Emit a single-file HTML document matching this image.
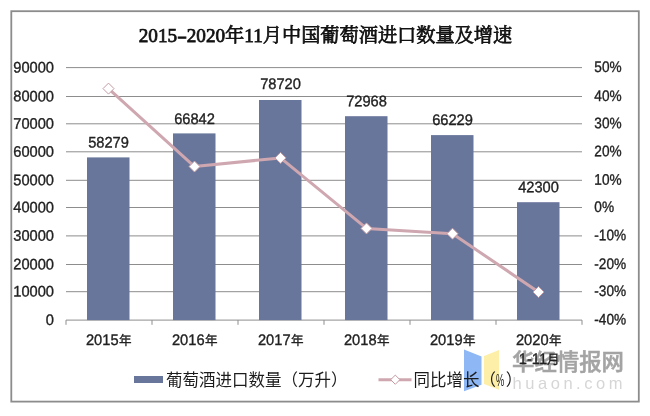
<!DOCTYPE html>
<html lang="zh-CN"><head><meta charset="utf-8"><title>2015-2020年11月中国葡萄酒进口数量及增速</title>
<style>
html,body{margin:0;padding:0;background:#fff;}
body{width:650px;height:416px;overflow:hidden;}
svg{display:block;}
text{font-family:"Liberation Sans","Noto Sans CJK SC",sans-serif;font-size:15.3px;fill:#222;stroke:#222;stroke-width:.35px;}
.title{font-family:"Liberation Serif","Noto Serif CJK SC",serif;font-weight:normal;font-size:19.2px;fill:#111;stroke:#111;stroke-width:.75px;}
.leg{font-size:16.5px;fill:#1c1c1c;stroke:none;}
.ra{font-size:15.3px;}
.cj{font-size:13.1px;}
.wm1{font-family:"Liberation Sans","Noto Sans CJK SC",sans-serif;font-weight:500;font-size:22.4px;fill:#8e8e8e;stroke:#8e8e8e;stroke-width:.55px;opacity:.8;}
.wm2{font-size:16.5px;fill:#d6d6d6;stroke:none;}
</style></head><body>
<svg width="650" height="416" viewBox="0 0 650 416">
<rect x="0" y="0" width="650" height="416" fill="#fff"/>
<rect x="11.3" y="11.2" width="627.5" height="390.4" fill="#fff" stroke="#8c8c8c" stroke-width="1.8"/>

<g>
<polygon points="464,349.5 481.5,356.5 481.5,384.7 464,391.2" fill="#8db7f5"/>
<polygon points="484,356 499,350 499,389.8 484,384" fill="#fdefa8"/>
<text class="wm1" x="512" y="370.3">华经情报网</text>
<text class="wm2" x="512.5" y="388.8" textLength="110" lengthAdjust="spacing">huaon.com</text>
</g>
<line x1="66" x2="582" y1="320.1" y2="320.1" stroke="#8d8d8d" stroke-width="1"/>
<line x1="66" x2="582" y1="291.7" y2="291.7" stroke="#8d8d8d" stroke-width="1"/>
<line x1="66" x2="582" y1="264.5" y2="264.5" stroke="#8d8d8d" stroke-width="1"/>
<line x1="66" x2="582" y1="235.9" y2="235.9" stroke="#8d8d8d" stroke-width="1"/>
<line x1="66" x2="582" y1="207.5" y2="207.5" stroke="#8d8d8d" stroke-width="1"/>
<line x1="66" x2="582" y1="180.3" y2="180.3" stroke="#8d8d8d" stroke-width="1"/>
<line x1="66" x2="582" y1="151.8" y2="151.8" stroke="#8d8d8d" stroke-width="1"/>
<line x1="66" x2="582" y1="123.8" y2="123.8" stroke="#8d8d8d" stroke-width="1"/>
<line x1="66" x2="582" y1="96.5" y2="96.5" stroke="#8d8d8d" stroke-width="1"/>
<line x1="66" x2="582" y1="67.6" y2="67.6" stroke="#8d8d8d" stroke-width="1"/>
<line x1="66.0" x2="66.0" y1="320.1" y2="324.8" stroke="#8d8d8d" stroke-width="1"/>
<line x1="152.0" x2="152.0" y1="320.1" y2="324.8" stroke="#8d8d8d" stroke-width="1"/>
<line x1="238.0" x2="238.0" y1="320.1" y2="324.8" stroke="#8d8d8d" stroke-width="1"/>
<line x1="324.0" x2="324.0" y1="320.1" y2="324.8" stroke="#8d8d8d" stroke-width="1"/>
<line x1="410.0" x2="410.0" y1="320.1" y2="324.8" stroke="#8d8d8d" stroke-width="1"/>
<line x1="496.0" x2="496.0" y1="320.1" y2="324.8" stroke="#8d8d8d" stroke-width="1"/>
<line x1="582.0" x2="582.0" y1="320.1" y2="324.8" stroke="#8d8d8d" stroke-width="1"/>
<text text-anchor="end" transform="translate(54.0 325.0) rotate(0.05) scale(0.958 1)">0</text>
<text class="ra" transform="translate(594.3 324.5) rotate(0.05) scale(0.892 1)">-40%</text>
<text text-anchor="end" transform="translate(54.0 296.6) rotate(0.05) scale(0.958 1)">10000</text>
<text class="ra" transform="translate(594.3 296.1) rotate(0.05) scale(0.892 1)">-30%</text>
<text text-anchor="end" transform="translate(54.0 269.4) rotate(0.05) scale(0.958 1)">20000</text>
<text class="ra" transform="translate(594.3 268.9) rotate(0.05) scale(0.892 1)">-20%</text>
<text text-anchor="end" transform="translate(54.0 240.8) rotate(0.05) scale(0.958 1)">30000</text>
<text class="ra" transform="translate(594.3 240.3) rotate(0.05) scale(0.892 1)">-10%</text>
<text text-anchor="end" transform="translate(54.0 212.4) rotate(0.05) scale(0.958 1)">40000</text>
<text class="ra" transform="translate(594.3 211.9) rotate(0.05) scale(0.892 1)">0%</text>
<text text-anchor="end" transform="translate(54.0 185.2) rotate(0.05) scale(0.958 1)">50000</text>
<text class="ra" transform="translate(594.3 184.7) rotate(0.05) scale(0.892 1)">10%</text>
<text text-anchor="end" transform="translate(54.0 156.7) rotate(0.05) scale(0.958 1)">60000</text>
<text class="ra" transform="translate(594.3 156.2) rotate(0.05) scale(0.892 1)">20%</text>
<text text-anchor="end" transform="translate(54.0 128.7) rotate(0.05) scale(0.958 1)">70000</text>
<text class="ra" transform="translate(594.3 128.2) rotate(0.05) scale(0.892 1)">30%</text>
<text text-anchor="end" transform="translate(54.0 101.4) rotate(0.05) scale(0.958 1)">80000</text>
<text class="ra" transform="translate(594.3 100.9) rotate(0.05) scale(0.892 1)">40%</text>
<text text-anchor="end" transform="translate(54.0 72.5) rotate(0.05) scale(0.958 1)">90000</text>
<text class="ra" transform="translate(594.3 72.0) rotate(0.05) scale(0.892 1)">50%</text>
<rect x="87.0" y="157.4" width="42.5" height="162.7" fill="#69769b"/>
<text text-anchor="middle" transform="translate(108.5 147.5) rotate(0.05) scale(0.958 1)">58279</text>
<text text-anchor="middle" transform="translate(108.8 345.0) rotate(0.05) scale(0.958 1)">2015<tspan class="cj" dx="0.6">年</tspan></text>
<rect x="173.0" y="133.4" width="42.5" height="186.7" fill="#69769b"/>
<text text-anchor="middle" transform="translate(194.5 124.0) rotate(0.05) scale(0.958 1)">66842</text>
<text text-anchor="middle" transform="translate(194.8 345.0) rotate(0.05) scale(0.958 1)">2016<tspan class="cj" dx="0.6">年</tspan></text>
<rect x="259.0" y="100.0" width="42.5" height="220.1" fill="#69769b"/>
<text text-anchor="middle" transform="translate(280.5 89.0) rotate(0.05) scale(0.958 1)">78720</text>
<text text-anchor="middle" transform="translate(280.8 345.0) rotate(0.05) scale(0.958 1)">2017<tspan class="cj" dx="0.6">年</tspan></text>
<rect x="345.0" y="116.2" width="42.5" height="203.9" fill="#69769b"/>
<text text-anchor="middle" transform="translate(366.5 106.2) rotate(0.05) scale(0.958 1)">72968</text>
<text text-anchor="middle" transform="translate(366.8 345.0) rotate(0.05) scale(0.958 1)">2018<tspan class="cj" dx="0.6">年</tspan></text>
<rect x="431.0" y="135.1" width="42.5" height="185.0" fill="#69769b"/>
<text text-anchor="middle" transform="translate(452.5 125.1) rotate(0.05) scale(0.958 1)">66229</text>
<text text-anchor="middle" transform="translate(452.8 345.0) rotate(0.05) scale(0.958 1)">2019<tspan class="cj" dx="0.6">年</tspan></text>
<rect x="517.0" y="202.2" width="42.5" height="117.9" fill="#69769b"/>
<text text-anchor="middle" transform="translate(538.5 192.2) rotate(0.05) scale(0.958 1)">42300</text>
<text text-anchor="middle" transform="translate(538.8 345.0) rotate(0.05) scale(0.958 1)">2020<tspan class="cj" dx="0.6">年</tspan></text>
<text text-anchor="middle" transform="translate(539.2 364.0) rotate(0.05) scale(0.958 1)">1-11<tspan class="cj">月</tspan></text>
<polyline fill="none" stroke="#cfa7b0" stroke-width="3" stroke-linejoin="round" points="108.5,88.6 194.5,166.6 280.5,157.9 366.5,228.4 452.5,233.7 538.5,292.0"/>
<path d="M108.5 83.1L114.0 88.6L108.5 94.1L103.0 88.6Z" fill="#fff" stroke="#c39aa3" stroke-width="1"/>
<path d="M194.5 161.1L200.0 166.6L194.5 172.1L189.0 166.6Z" fill="#fff" stroke="#c39aa3" stroke-width="1"/>
<path d="M280.5 152.4L286.0 157.9L280.5 163.4L275.0 157.9Z" fill="#fff" stroke="#c39aa3" stroke-width="1"/>
<path d="M366.5 222.9L372.0 228.4L366.5 233.9L361.0 228.4Z" fill="#fff" stroke="#c39aa3" stroke-width="1"/>
<path d="M452.5 228.2L458.0 233.7L452.5 239.2L447.0 233.7Z" fill="#fff" stroke="#c39aa3" stroke-width="1"/>
<path d="M538.5 286.5L544.0 292.0L538.5 297.5L533.0 292.0Z" fill="#fff" stroke="#c39aa3" stroke-width="1"/>
<text class="title" x="325.5" y="41.6" text-anchor="middle">2015<tspan textLength="9.6" lengthAdjust="spacingAndGlyphs">-</tspan>2020年11月中国葡萄酒进口数量及增速</text>
<rect x="134" y="376" width="29" height="7" fill="#69769b"/>
<text class="leg" x="166" y="385.5">葡萄酒进口数量（万升）</text>
<line x1="378.5" x2="411.5" y1="379.7" y2="379.7" stroke="#cfa7b0" stroke-width="3"/>
<path d="M395.3 375.1L399.9 379.7L395.3 384.3L390.7 379.7Z" fill="#fff" stroke="#c39aa3" stroke-width="1"/>
<text class="leg" x="413.6" y="385.5">同比增长（<tspan textLength="8.25" lengthAdjust="spacingAndGlyphs">%</tspan><tspan dx="1.5">）</tspan></text>
</svg></body></html>
